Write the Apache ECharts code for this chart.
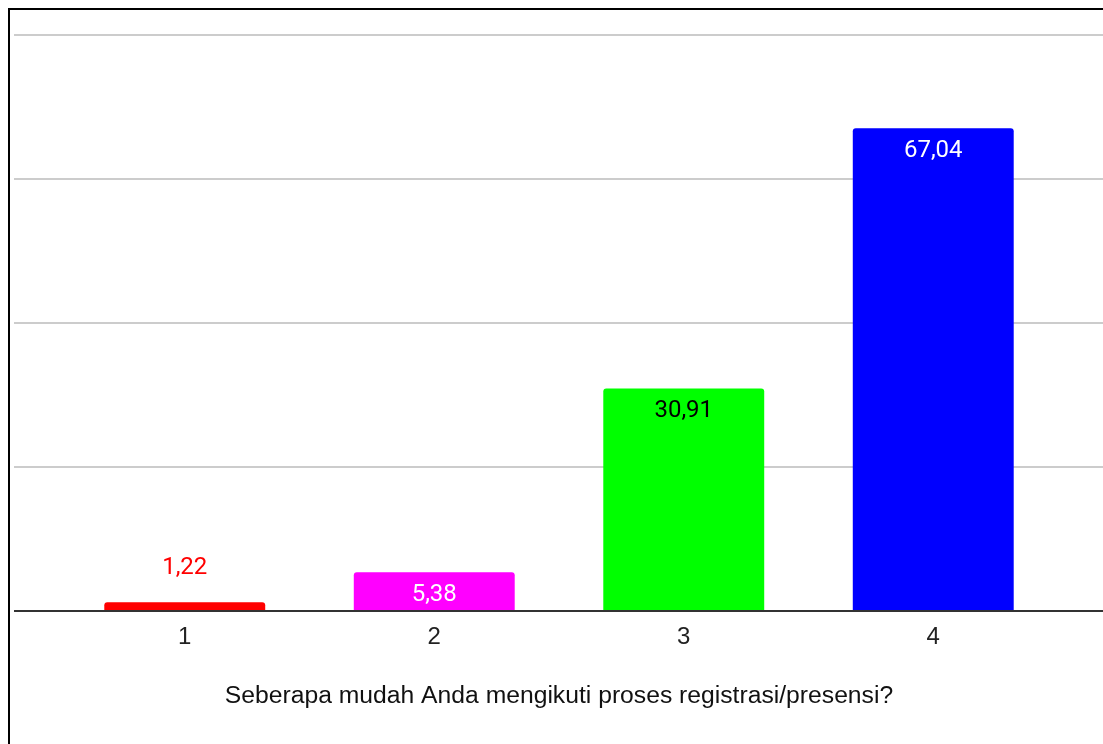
<!DOCTYPE html>
<html><head><meta charset="utf-8">
<script src="https://cdn.jsdelivr.net/npm/echarts@6/dist/echarts.min.js"></script>
<style>
html,body{margin:0;padding:0;background:#fff;overflow:hidden}
#c{position:absolute;left:0;top:0;width:1103px;height:744px}
#frame{position:absolute;left:8px;top:8px;width:1200px;height:800px;border-left:2px solid #000;border-top:2px solid #000;pointer-events:none}
</style></head>
<body>
<div id="c"></div>
<div id="frame"></div>
<script>
const categories = ['1', '2', '3', '4'];
const values = [1.22, 5.38, 30.91, 67.04];
const barColors = ['#ff0000', '#ff00ff', '#00ff00', '#0000ff'];
const labelColors = ['#ff0000', '#ffffff', '#000000', '#ffffff'];
const axisTitle = 'Seberapa mudah Anda mengikuti proses registrasi/presensi?';
const yMax = 80, yStep = 20;

const fmt = v => v.toFixed(2).replace('.', ',');

const chart = echarts.init(document.getElementById('c'), null, {renderer: 'canvas'});
chart.setOption({
  animation: false,
  grid: [
    {left: 14, right: 0, top: 35, bottom: 133},
    {left: 60, width: 998, top: 35, bottom: 133}
  ],
  xAxis: [
    {gridIndex: 0, type: 'value', min: 0, max: 1, show: true,
     axisLine: {show: false}, axisTick: {show: false}, axisLabel: {show: false}, splitLine: {show: false}},
    {gridIndex: 1, type: 'category', data: categories,
     axisLine: {show: false}, axisTick: {show: false},
     axisLabel: {color: '#222', fontSize: 24, fontFamily: 'Liberation Sans, Arial', margin: 14},
     name: axisTitle, nameLocation: 'middle', nameGap: 73,
     nameTextStyle: {color: '#111', fontSize: 24.7, fontFamily: 'Liberation Sans, Arial'}}
  ],
  yAxis: [
    {gridIndex: 0, type: 'value', min: 0, max: yMax, interval: yStep,
     axisLine: {show: false}, axisTick: {show: false}, axisLabel: {show: false},
     splitLine: {lineStyle: {color: '#cccccc', width: 2}}},
    {gridIndex: 1, type: 'value', min: 0, max: yMax, interval: yStep, show: false}
  ],
  series: [
    {type: 'line', xAxisIndex: 0, yAxisIndex: 0, data: [[0, 0], [1, 0]],
     symbol: 'none', silent: true, lineStyle: {color: '#333', width: 2}, z: 5},
    {type: 'bar', xAxisIndex: 1, yAxisIndex: 1, barWidth: '64.5%', z: 3,
     data: values.map((v, i) => ({
       value: v,
       itemStyle: {color: barColors[i], borderRadius: [3, 3, 0, 0]},
       label: {
         show: true,
         position: i === 0 ? 'top' : 'insideTop',
         distance: i === 0 ? 22 : 11,
         color: labelColors[i],
         fontSize: 24,
         fontFamily: 'Roboto',
         formatter: () => fmt(v)
       }
     }))}
  ]
});
</script>
</body></html>
